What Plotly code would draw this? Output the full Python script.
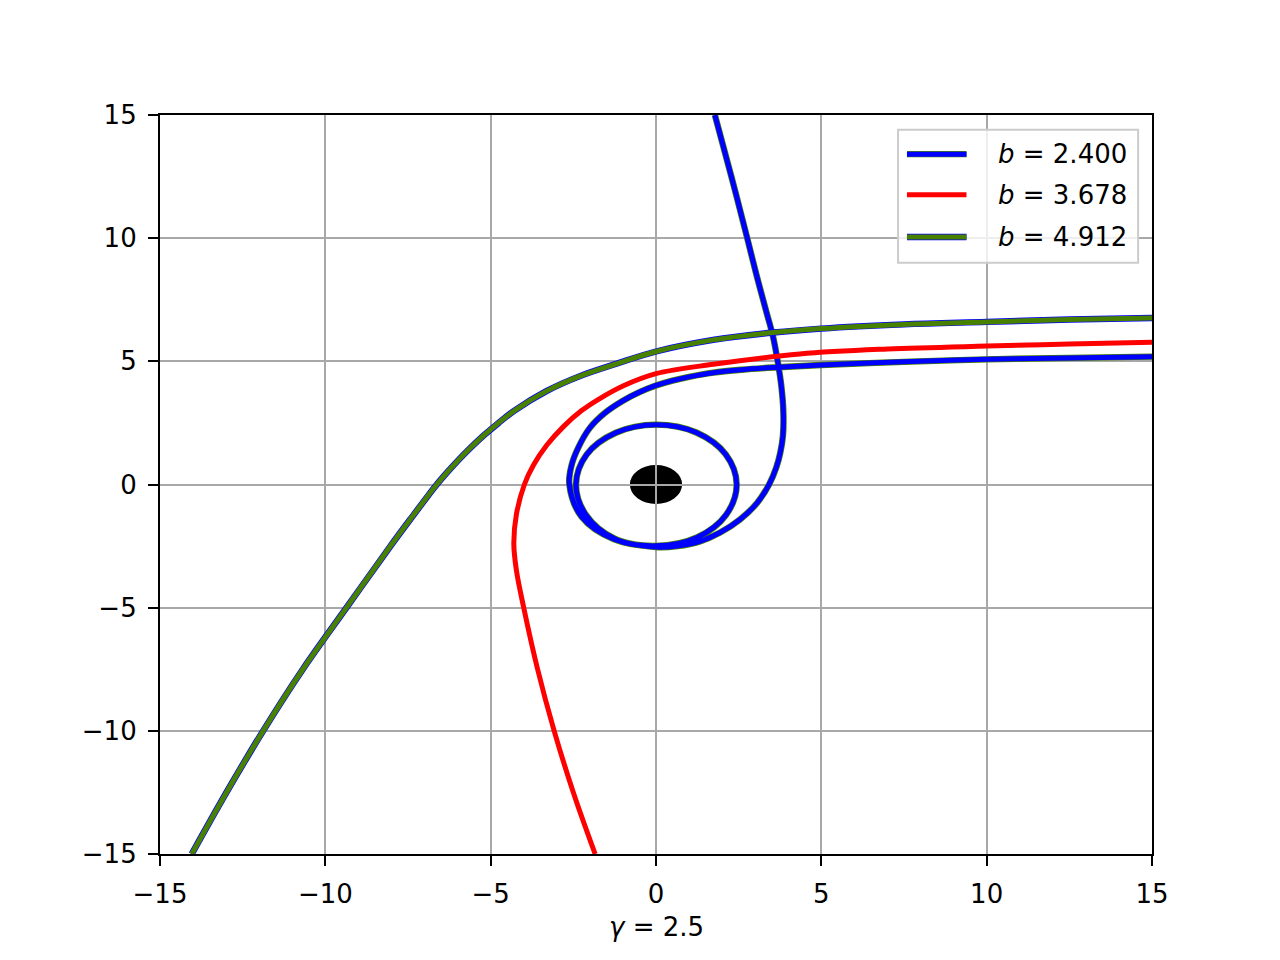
import plotly.graph_objects as go

# trajectories (x, y)
blue_x = [1.78, 2.28, 2.76, 3.04, 3.34, 3.54, 3.68, 3.79, 3.85, 3.84, 3.76, 3.64, 3.42, 3.05, 2.54, 1.94,
          1.33, 0.65, 0.0, -1.25, -2.12, -2.42, -2.10, -1.215, 0.0, 1.22, 2.11, 2.44, 2.12, 1.24, 0.0,
          -1.27, -2.25, -2.62, -2.55, -2.35, -2.0, -1.55, -1.0, -0.5, 0.0, 0.5, 1.0, 1.73, 2.6, 3.55,
          5.0, 7.5, 10.0, 12.5, 15.0]
blue_y = [15.0, 12.5, 10.0, 8.5, 7.0, 6.0, 5.0, 4.0, 3.0, 2.0, 1.3, 0.7, 0.0, -0.76, -1.42, -1.95,
          -2.31, -2.5, -2.54, -2.2, -1.23, 0.0, 1.21, 2.10, 2.43, 2.11, 1.22, 0.0, -1.23, -2.15, -2.49,
          -2.22, -1.31, 0.0, 0.8, 1.5, 2.3, 2.9, 3.4, 3.75, 4.02, 4.22, 4.37, 4.54, 4.66, 4.75,
          4.85, 4.98, 5.08, 5.14, 5.19]

red_x = [-1.84, -2.5, -3.08, -3.58, -4.0, -4.22, -4.30, -4.22, -3.98, -3.7, -3.3, -2.8, -2.25, -1.75,
         -1.0, 0.0, 1.73, 4.35, 7.0, 10.0, 12.5, 15.0]
red_y = [-15.0, -12.5, -10.0, -7.5, -5.0, -3.5, -2.4, -1.2, 0.0, 0.8, 1.6, 2.35, 3.0, 3.45,
         4.0, 4.5, 4.88, 5.3, 5.5, 5.62, 5.7, 5.77]

green_x = [-14.04, -12.99, -11.88, -10.68, -9.36, -8.03, -7.34, -6.92, -6.63, -6.31, -5.97, -5.60,
           -5.2, -4.76, -4.28, -3.3, -2.3, -1.2, 0.0, 1.73, 3.55, 5.0, 7.5, 10.0, 12.5, 15.0]
green_y = [-15.0, -12.5, -10.0, -7.5, -5.0, -2.5, -1.25, -0.5, 0.0, 0.5, 1.0, 1.5,
           2.0, 2.5, 3.0, 3.8, 4.4, 4.9, 5.4, 5.87, 6.17, 6.33, 6.5, 6.6, 6.7, 6.76]

labels = ["2.400", "3.678", "4.912"]
hole_r = 0.79

BLUE = "#0000ff"
RED = "#ff0000"
GREEN = "#488000"
FONT = "DejaVu Sans"
LW = 5.0
RIM = 6.4

fig = go.Figure()

# each curve: (x, y, under colour, top colour)
curves = [
    (blue_x, blue_y, GREEN, BLUE),
    (red_x, red_y, None, RED),
    (green_x, green_y, BLUE, GREEN),
]
for cx, cy, under, top in curves:
    if under:
        fig.add_trace(go.Scatter(x=cx, y=cy, mode="lines",
                                 line=dict(color=under, width=RIM, shape="spline", smoothing=1.0),
                                 showlegend=False, hoverinfo="skip"))
    fig.add_trace(go.Scatter(x=cx, y=cy, mode="lines",
                             line=dict(color=top, width=LW, shape="spline", smoothing=1.0),
                             showlegend=False))

# the central body, under the grid
fig.add_shape(type="circle", xref="x", yref="y", x0=-hole_r, x1=hole_r, y0=-hole_r, y1=hole_r,
              fillcolor="black", line=dict(width=0), layer="below")

# hand-made legend (lines with a coloured rim)
fig.add_shape(type="rect", xref="paper", yref="paper", x0=0.744, x1=0.986, y0=0.800, y1=0.980,
              fillcolor="rgba(255,255,255,0.8)", line=dict(color="#cccccc", width=2))
rows = [0.947, 0.892, 0.835]
for (under, top), lab, yy in zip([(GREEN, BLUE), (None, RED), (BLUE, GREEN)], labels, rows):
    if under:
        fig.add_shape(type="line", xref="paper", yref="paper", x0=0.753, x1=0.813, y0=yy, y1=yy,
                      line=dict(color=under, width=RIM))
    fig.add_shape(type="line", xref="paper", yref="paper", x0=0.753, x1=0.813, y0=yy, y1=yy,
                  line=dict(color=top, width=LW))
    fig.add_annotation(xref="paper", yref="paper", x=0.843, y=yy, xanchor="left", yanchor="middle",
                       text="<i>b</i> = " + lab, showarrow=False, font=dict(size=26, color="black", family=FONT))

fig.add_annotation(xref="paper", yref="paper", x=0.5, y=-0.099, xanchor="center", yanchor="middle",
                   text="<i>γ</i> = 2.5", showarrow=False, font=dict(size=26, color="black", family=FONT))

axis = dict(range=[-15, 15], tickvals=[-15, -10, -5, 0, 5, 10, 15], showgrid=True, gridcolor="#a8a8a8",
            gridwidth=2, zeroline=False, showline=True, linecolor="black", linewidth=2.2, mirror=True,
            ticks="outside", ticklen=10, tickwidth=2.2, tickcolor="black", ticklabelstandoff=6,
            tickfont=dict(size=26, color="black", family=FONT))

# the page adds an 8px body margin, so the figure is a little smaller
fig.update_layout(
    width=1264, height=944,
    margin=dict(l=152, r=120, t=107, b=98),
    paper_bgcolor="white", plot_bgcolor="white",
    xaxis=axis, yaxis=axis,
    showlegend=False,
    font=dict(family=FONT),
)

fig.write_html("out.html")
